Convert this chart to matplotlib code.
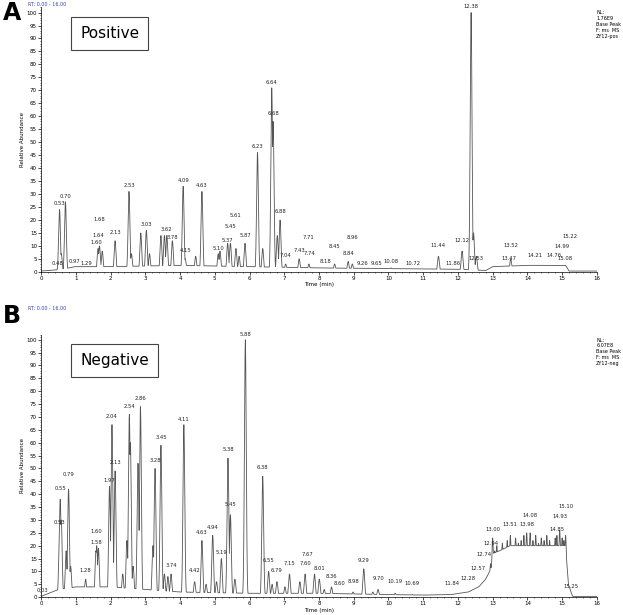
import numpy as np
import matplotlib
matplotlib.use("Agg")
import matplotlib.pyplot as plt

# ---- Positive mode peaks (retention time, relative abundance) ----
pos_rt = [0.48,0.53,0.58,0.70,0.97,1.29,1.64,1.68,1.76,2.13,2.53,2.60,2.87,3.03,3.12,3.45,3.55,3.62,3.78,
          4.09,4.15,4.45,4.63,5.10,5.15,5.37,5.45,5.61,5.70,5.87,6.23,6.38,6.64,6.68,6.80,6.88,7.04,7.43,
          7.71,8.45,8.84,8.96,10.08,11.44,12.12,12.38,12.45,12.53,13.52]
pos_h  = [1,24,7,27,2,1,9,10,8,12,31,7,15,16,7,14,14,14,12,
          33,5,6,31,7,8,11,11,9,6,11,46,9,71,58,14,20,3,5,
          3,3,4,3,1.5,6,8,100,15,6,5]
pos_labels = ["0.48","0.53","0.70","0.97","1.29","1.64","1.60","1.68","2.13","2.53","3.03","3.62","3.78","4.09",
              "4.15","4.63","5.37","5.10","5.45","5.61","5.87","6.23","6.64","6.68","6.88","7.04","7.43","7.71",
              "7.74","8.18","8.45","8.84","8.96","9.26","9.65","10.08","10.72","11.44","11.86","12.12","12.38",
              "12.53","13.47","13.52","14.21","14.76","14.99","15.08","15.22"]
pos_lab_y = [1,24,27,2,1,12,9,11,13,31,16,14,11,33,6,31,10,7,12,9,12,46,71,59,21,4,6,4,
             5,2,4,5,4,1,1,2,1,8,1,10,100,3,3,8,4,4,4,3,1]
pos_base_t = [0,0.5,1,2,4,8,12,12.8,13.0,14,15.1,15.2,16]
pos_base_y = [0.3,0.8,2,2,2.5,1.5,1,0.5,2,2.5,2.5,0.3,0.3]

# ---- Negative mode peaks ----
neg_rt = [0.03,0.53,0.55,0.58,0.72,0.79,0.85,1.05,1.28,1.58,1.60,1.65,1.97,2.04,2.13,2.35,2.47,2.54,2.57,2.65,
          2.79,2.86,3.22,3.28,3.45,3.55,3.65,3.74,4.11,4.42,4.63,4.75,4.94,5.05,5.19,5.38,5.45,5.58,5.88,6.38,
          6.55,6.65,6.79,7.02,7.15,7.45,7.60,7.87,8.01,8.15,8.36,8.60,8.98,9.29,9.55,9.70,10.19,10.69,
          12.94,13.00,13.06,13.12,13.20,13.28,13.35,13.42,13.51,13.58,13.66,13.74,13.82,13.90,13.98,14.08,
          14.16,14.24,14.32,14.40,14.48,14.56,14.64,14.72,14.80,14.85,14.93,15.00,15.05,15.10]
neg_h  = [0.5,22,38,30,18,42,12,4,7,18,20,19,43,67,49,9,22,71,60,12,
          52,74,20,50,59,9,8,9,67,6,22,5,24,6,15,54,32,7,100,47,
          10,5,6,4,9,6,9,9,7,3,4,1,2,11,2,3,1.5,1,
          13,23,18,20,17,21,19,22,24,20,23,21,22,24,25,25,
          22,24,21,23,22,24,22,20,23,24,26,23,22,24]
neg_labels = ["0.03","0.53","0.55","0.79","1.28","1.58","1.60","1.97","2.04","2.13","2.54","2.86","3.28","3.45",
              "3.74","4.11","4.42","4.63","4.94","5.19","5.38","5.45","5.88","6.38","6.55","6.79","7.15","7.60",
              "7.67","8.01","8.36","8.60","8.98","9.29","9.70","10.19","10.69","11.84","12.28","12.57","12.74",
              "12.94","13.00","13.51","13.98","14.08","14.85","14.93","15.10","15.25"]
neg_lab_y = [0.5,27,40,42,8,19,20,43,68,50,72,75,51,60,10,67,8,23,25,15,55,34,100,48,12,8,11,11,
             11,9,6,3,4,12,5,4,3,3,5,9,11,15,24,26,26,26,24,29,26,2]
neg_base_t = [0,0.5,1,2,3,4,6,8,10,11,11.8,12.3,12.6,12.8,12.95,13.0,13.2,13.5,14,14.5,15.1,15.18,15.3,16]
neg_base_y = [0.3,3,4,4,3,2,1.5,1.5,1,0.8,1,2,4,7,11,17,18,20,20,20,20,5,0.3,0.3]

ticks_y = list(range(0, 101, 5))
ticks_x = list(range(0, 17))

def trace(t, rts, hs, bt, by):
    base = np.interp(t, bt, by)
    y = base.copy()
    for r, h in zip(rts, hs):
        y = np.maximum(y, h * np.exp(-0.5 * ((t - r) / 0.026) ** 2))
    return y

fig = plt.figure(figsize=(6.23, 6.15), dpi=100)
t = np.linspace(0, 16, 8000)

def panel(rect, rts, hs, bt, by, labels, laby, title, letter, nl, top_px):
    ax = fig.add_axes(rect)
    y = trace(t, rts, hs, bt, by)
    ax.plot(t, y, color="#555555", lw=0.6)
    ax.set_xlim(0, 16)
    ax.set_ylim(0, 102)
    ax.set_xticks(ticks_x)
    ax.set_yticks(ticks_y)
    ax.tick_params(labelsize=4, length=2, width=0.5, pad=1)
    ax.minorticks_on()
    ax.tick_params(which="minor", length=1, width=0.4)
    for s in ["top", "right"]:
        ax.spines[s].set_visible(False)
    for s in ["left", "bottom"]:
        ax.spines[s].set_linewidth(0.5)
    ax.set_xlabel("Time (min)", fontsize=4, labelpad=1)
    ax.set_ylabel("Relative Abundance", fontsize=4, labelpad=1)
    placed = []
    for lab, ly in zip(labels, laby):
        x = float(lab)
        for _ in range(6):
            clash = [p for p in placed if abs(x - p[0]) < 0.3 and abs(ly - p[1]) < 3]
            if not clash:
                break
            ly = ly + 3.5
        ax.text(x, ly + 1.2, lab, fontsize=3.8, ha="center", va="bottom", color="#222222")
        placed.append((x, ly))
    ax.text(0.07, 0.90, title, transform=ax.transAxes, fontsize=11, va="center",
            bbox=dict(boxstyle="square,pad=0.6", fc="white", ec="#444444", lw=0.8))
    fig.text(0.005, top_px, letter, fontsize=17, fontweight="bold", va="top")
    fig.text(0.045, top_px - 0.002, "RT: 0.00 - 16.00", fontsize=3.5, color="#3344aa", va="top")
    fig.text(0.957, rect[1] + rect[3] - 0.005, nl, fontsize=3.5, va="top", linespacing=1.2)
    return ax

panel([0.066, 0.558, 0.892, 0.43], pos_rt, pos_h, pos_base_t, pos_base_y,
      pos_labels, pos_lab_y, "Positive", "A",
      "NL:\n1.76E9\nBase Peak\nF: ms  MS\nZY12-pos", 0.998)
panel([0.066, 0.029, 0.892, 0.427], neg_rt, neg_h, neg_base_t, neg_base_y,
      neg_labels, neg_lab_y, "Negative", "B",
      "NL:\n6.07E8\nBase Peak\nF: ms  MS\nZY12-neg", 0.505)

fig.savefig("out.png", dpi=100)
